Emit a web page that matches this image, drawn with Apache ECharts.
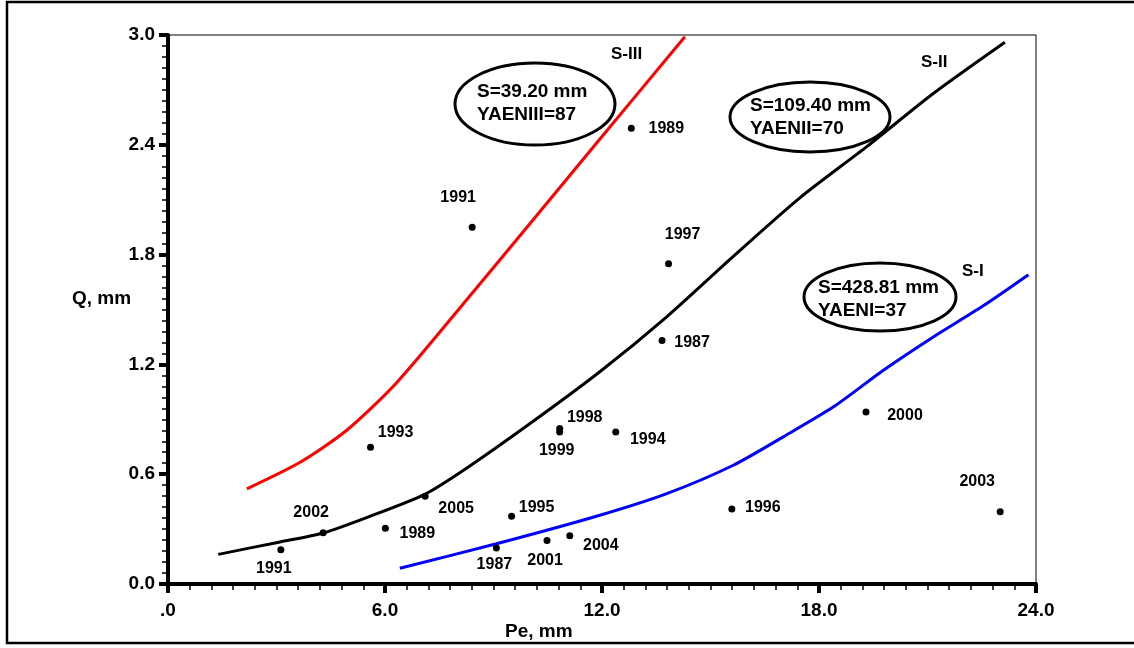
<!DOCTYPE html>
<html>
<head>
<meta charset="utf-8">
<script src="https://cdn.jsdelivr.net/npm/echarts@6/dist/echarts.min.js"></script>
<style>
  html, body { margin: 0; padding: 0; background: #fff; }
  #chart { width: 1134px; height: 648px; }
</style>
</head>
<body>
<div id="chart"></div>
<script>
// observed points (Pe, Q) with year
const years = ['1991', '1989', '1997', '1987', '2000', '2003', '1996', '1998', '1999', '1994',
  '1993', '2005', '2002', '1989', '1995', '1991', '1987', '2001', '2004'];
const peValues = [8.41, 12.81, 13.84, 13.66, 19.30, 23.01, 15.59, 10.83, 10.83, 12.38,
  5.60, 7.11, 4.29, 6.01, 9.50, 3.12, 9.08, 10.48, 11.11];
const qValues = [1.95, 2.49, 1.75, 1.33, 0.94, 0.395, 0.41, 0.85, 0.83, 0.83,
  0.747, 0.48, 0.28, 0.305, 0.37, 0.187, 0.197, 0.238, 0.264];

// fitted curves
const s3Pe = [2.18, 3.65, 4.94, 6.32, 8.16, 10.01, 11.85, 14.29];
const s3Q = [0.52, 0.665, 0.84, 1.10, 1.53, 1.97, 2.41, 2.99];
const s2Pe = [1.39, 3.10, 4.29, 5.49, 7.1, 8.16, 10.01, 11.94, 13.79, 15.63, 17.47, 19.32, 21.16, 23.14];
const s2Q = [0.162, 0.23, 0.279, 0.363, 0.49, 0.62, 0.877, 1.16, 1.46, 1.79, 2.11, 2.39, 2.68, 2.96];
const s1Pe = [6.41, 9.08, 11.94, 13.79, 15.63, 17.01, 18.40, 19.78, 21.16, 22.54, 23.79];
const s1Q = [0.086, 0.22, 0.376, 0.494, 0.649, 0.804, 0.968, 1.168, 1.35, 1.52, 1.69];

const xTicks = [0, 6, 12, 18, 24];
const yTicks = [0, 0.6, 1.2, 1.8, 2.4, 3.0];

// where each year label sits relative to its dot (px)
const labelOffsets = [[-14, -30], [35, 0], [14, -29], [30, 2], [39, 4], [-23, -30], [31, -1],
  [25, -11], [-3, 18], [32, 7], [25, -15], [31, 12], [-12, -20], [32, 5], [25, -9],
  [-7, 19], [-2, 17], [-2, 20], [31, 10]];

const font = 'Liberation Sans, Arial, sans-serif';

const toPairs = (xs, ys) => xs.map((x, i) => [x, ys[i]]);

const chart = echarts.init(document.getElementById('chart'));

const curve = (name, xs, ys, color) => ({
  name: name,
  type: 'line',
  data: toPairs(xs, ys),
  smooth: 0.25,
  showSymbol: false,
  lineStyle: { color: color, width: 3 },
  z: 2
});

const ellipseNote = (cx, cy, rx, ry, lines, tx, ty) => ([
  {
    type: 'ellipse',
    shape: { cx: cx, cy: cy, rx: rx, ry: ry },
    style: { fill: null, stroke: '#000', lineWidth: 3 },
    z: 10
  },
  {
    type: 'text',
    left: tx,
    top: ty,
    style: { text: lines.join('\n'), font: 'bold 19px ' + font, fill: '#000', lineHeight: 23 },
    z: 11
  }
]);

const option = {
  backgroundColor: '#fff',
  animation: false,
  grid: {
    left: 168, right: 98, top: 35, bottom: 64,
    show: true, borderColor: '#000', borderWidth: 1
  },
  xAxis: {
    type: 'value',
    min: xTicks[0],
    max: xTicks[xTicks.length - 1],
    interval: 6,
    axisLine: { lineStyle: { color: '#000', width: 4 } },
    axisTick: { inside: false, length: 9, lineStyle: { color: '#000', width: 4 } },
    minorTick: { show: true, splitNumber: 10, length: 6, lineStyle: { color: '#000', width: 1.5 } },
    splitLine: { show: false },
    axisLabel: {
      margin: 17,
      color: '#000',
      fontFamily: font,
      fontWeight: 'bold',
      fontSize: 19,
      formatter: v => (v === 0 ? '.0' : v.toFixed(1))
    }
  },
  yAxis: {
    type: 'value',
    min: yTicks[0],
    max: yTicks[yTicks.length - 1],
    interval: 0.6,
    axisLine: { lineStyle: { color: '#000', width: 4 } },
    axisTick: { inside: false, length: 9, lineStyle: { color: '#000', width: 4 } },
    minorTick: { show: true, splitNumber: 10, length: 6, lineStyle: { color: '#000', width: 1.5 } },
    splitLine: { show: false },
    axisLabel: {
      margin: 13,
      color: '#000',
      fontFamily: font,
      fontWeight: 'bold',
      fontSize: 19,
      formatter: v => v.toFixed(1)
    }
  },
  series: [
    curve('S-III', s3Pe, s3Q, '#ff0000'),
    curve('S-II', s2Pe, s2Q, '#000000'),
    curve('S-I', s1Pe, s1Q, '#0000ff'),
    {
      name: 'years',
      type: 'scatter',
      symbol: 'circle',
      symbolSize: 7,
      itemStyle: { color: '#000', opacity: 1 },
      z: 3,
      data: peValues.map((x, i) => ({
        value: [x, qValues[i]],
        name: years[i],
        label: { offset: labelOffsets[i] }
      })),
      label: {
        show: true,
        position: 'inside',
        formatter: p => p.name,
        color: '#000',
        fontFamily: font,
        fontWeight: 'bold',
        fontSize: 16
      }
    }
  ],
  graphic: [
    {
      type: 'polyline',
      shape: { points: [[1134, 2], [7, 2], [7, 643], [1134, 643]] },
      style: { stroke: '#000', lineWidth: 2.5, fill: null },
      z: 0
    },
    {
      type: 'text', left: 72, top: 289,
      style: { text: 'Q, mm', font: 'bold 19px ' + font, fill: '#000' }
    },
    {
      type: 'text', left: 505, top: 622,
      style: { text: 'Pe, mm', font: 'bold 19px ' + font, fill: '#000' }
    },
    {
      type: 'text', left: 611, top: 46,
      style: { text: 'S-III', font: 'bold 17px ' + font, fill: '#000' }
    },
    {
      type: 'text', left: 921, top: 54,
      style: { text: 'S-II', font: 'bold 17px ' + font, fill: '#000' }
    },
    {
      type: 'text', left: 962, top: 263,
      style: { text: 'S-I', font: 'bold 17px ' + font, fill: '#000' }
    },
    ...ellipseNote(535, 104, 80, 41, ['S=39.20 mm', 'YAENIII=87'], 477, 80),
    ...ellipseNote(810, 117, 80, 35, ['S=109.40 mm', 'YAENII=70'], 750, 94),
    ...ellipseNote(880, 297, 76, 34, ['S=428.81 mm', 'YAENI=37'], 818, 276)
  ]
};

chart.setOption(option);
</script>
</body>
</html>
